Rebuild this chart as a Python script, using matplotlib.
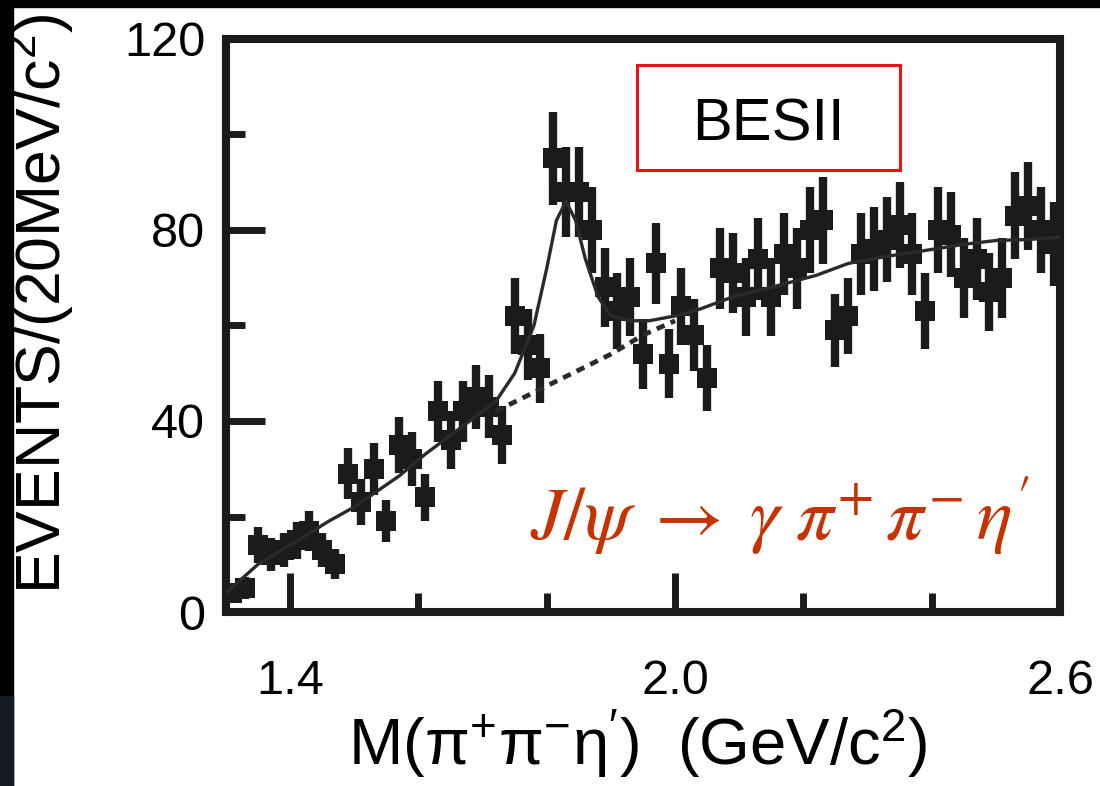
import numpy as np
import matplotlib.pyplot as plt
from matplotlib.patches import Rectangle

plt.rcParams['font.family'] = ['Liberation Sans', 'DejaVu Sans']
plt.rcParams['mathtext.fontset'] = 'custom'
plt.rcParams['mathtext.rm'] = 'Liberation Sans'
plt.rcParams['mathtext.it'] = 'Liberation Sans:italic'

# 20 MeV bins, centres from 1.31 to 2.59 GeV
mass = np.round(np.arange(1.31, 2.60, 0.02), 2)
events = [4, 5, 14, 12, 13, 15, 17, 13, 10, 29,
          23, 30, 19, 35, 32, 24, 42, 36, 42, 45,
          43, 37, 62, 56, 51, 95, 88, 88, 80, 68,
          63, 66, 54, 73, 52, 64, 58, 49, 72, 71,
          66, 74, 66, 75, 72, 80, 82, 59, 62, 75,
          76, 78, 81, 75, 63, 80, 79, 70, 74, 67,
          70, 83, 85, 80, 77]
err = np.sqrt(events)

# fit curves
fit_m = [1.30, 1.35, 1.40, 1.46, 1.50, 1.57, 1.61, 1.66, 1.70, 1.72, 1.75,
         1.78, 1.80, 1.815, 1.83, 1.845, 1.86, 1.88, 1.90, 1.93, 1.96, 2.00,
         2.04, 2.09, 2.15, 2.22, 2.27, 2.33, 2.38, 2.45, 2.50, 2.55, 2.60]
fit_total = [4, 10, 14, 19, 22, 28.5, 33, 38, 42, 44, 50,
             60, 72, 82, 86, 82, 74, 66, 62, 61, 61, 62,
             63.5, 66, 68, 70.5, 73, 74.5, 75.5, 77, 77.8, 78, 78.5]
bkg_m = [1.72, 1.78, 1.84, 1.90, 1.95, 2.00]
bkg = [42, 46, 50, 54, 58, 61]

fig = plt.figure(figsize=(11, 7.86), dpi=100)
fig.patch.set_facecolor('white')
ax = fig.add_axes([226/1100, 1-612/786, (1060-226)/1100, (612-39)/786])

ink = '#1c1a1a'
ax.errorbar(mass, events, yerr=err, fmt='s', color=ink, ms=15, mew=0,
            elinewidth=6, capsize=0, zorder=3)
ax.plot(fit_m, fit_total, color='#2a2a2a', lw=2.4, zorder=4)
ax.plot(bkg_m, bkg, color='#2a2a2a', lw=3.4, ls=(0, (1.8, 1.4)), zorder=4)

ax.set_xlim(1.3, 2.6)
ax.set_ylim(0, 120)
ax.set_xticks([1.4, 2.0, 2.6])
ax.set_xticklabels(['1.4', '2.0', '2.6'])
ax.set_xticks([1.6, 1.8, 2.2, 2.4], minor=True)
ax.set_yticks([0, 40, 80, 120])
ax.set_yticks([20, 60, 100], minor=True)
ax.tick_params(which='both', direction='in', width=5, color=ink,
               top=False, right=False, labelsize=35)
ax.tick_params(which='major', length=28)
ax.tick_params(which='minor', length=14)
ax.tick_params(axis='x', pad=34)
ax.tick_params(axis='y', pad=15)
for sp in ax.spines.values():
    sp.set_linewidth(5.8)
    sp.set_color(ink)

# labels
fig.text(40/1100, 1-304/786, r'EVENTS/(20MeV/c$^{2}$)', rotation=90,
         ha='center', va='center', fontsize=45)
fig.text(638/1100, 1-744/786, 'M(π$^{+}$π$^{-}$η$^{\\prime}$)  (GeV/c$^{2}$)',
         ha='center', va='center', fontsize=47)

# experiment box
fig.patches.append(Rectangle((637/1100, 1-170/786), 263/1100, 105/786,
                             transform=fig.transFigure, fill=False,
                             edgecolor='#ee1111', lw=2.2))
fig.text(768/1100, 1-125/786, 'BESII', ha='center', va='center', fontsize=43)

# decay channel
fig.text(530/1100, 1-540/786,
         r'$J/\psi\;\rightarrow\;\gamma\;\pi^{+}\,\pi^{-}\,\eta^{\prime}$',
         math_fontfamily='stix', fontsize=54, color='#c83200', va='baseline')

# dark slide border
fig.patches.append(Rectangle((0, 0), 13/1100, 1, transform=fig.transFigure,
                             color='black', zorder=5))
fig.patches.append(Rectangle((0, 0), 13/1100, 90/786, transform=fig.transFigure,
                             color='#141a28', zorder=5))
fig.patches.append(Rectangle((0, 1-7/786), 1, 7/786, transform=fig.transFigure,
                             color='black', zorder=5))

fig.savefig('out.png', dpi=100)
